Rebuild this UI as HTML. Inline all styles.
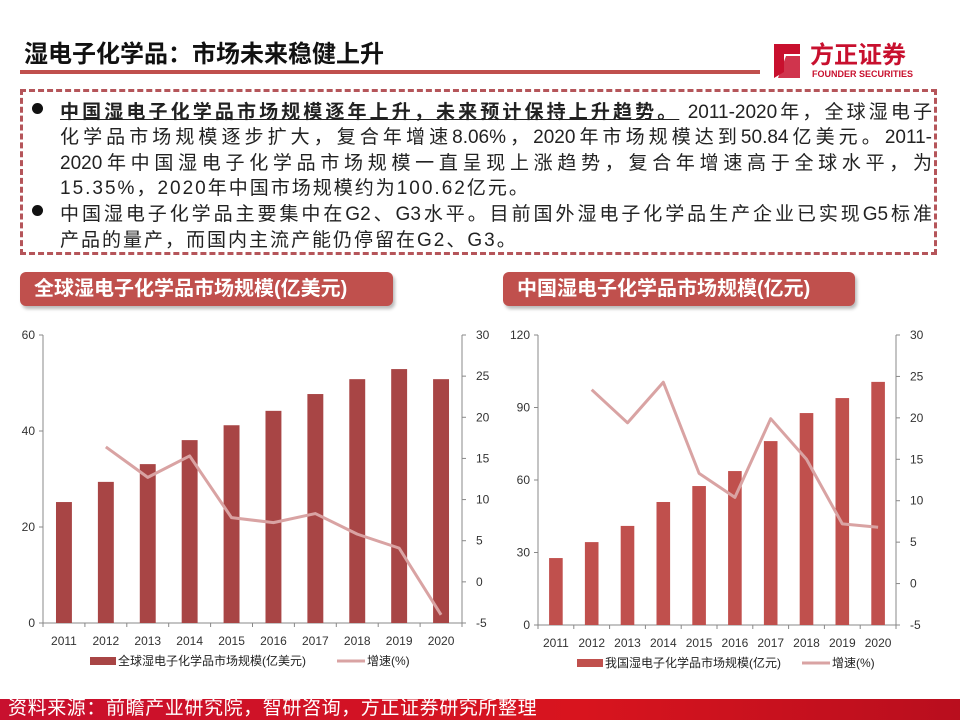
<!DOCTYPE html>
<html><head><meta charset="utf-8">
<style>
body{margin:0;width:960px;height:720px;background:#fff;position:relative;overflow:hidden;font-family:"Liberation Sans","Noto Sans CJK SC",sans-serif;}
.abs{position:absolute;}
#title{left:24px;top:34px;font-size:24px;font-weight:bold;color:#111;}
#rule{left:20px;top:70px;width:740px;height:4px;background:#c0504d;}
#box{left:20px;top:89px;width:917px;height:166px;border:3px dashed #b5555a;box-sizing:border-box;}
.line{position:absolute;left:60px;font-size:19px;color:#222;white-space:nowrap;letter-spacing:2px;}
.full{width:872px;text-align:justify;text-align-last:justify;letter-spacing:0;}
.dot{position:absolute;left:32px;width:11px;height:11px;border-radius:50%;background:#111;}
.pill{position:absolute;top:272px;height:34px;background:#c0504d;border-radius:6px;color:#fff;font-weight:bold;font-size:20px;line-height:34px;padding-left:14px;box-sizing:border-box;box-shadow:2px 3px 3px #bbb;}
#footer{left:0;top:699px;width:960px;height:21px;background:linear-gradient(90deg,#c8102e,#d8141e 60%,#b80e1e);color:#fff;font-size:19px;line-height:20px;padding-left:8px;letter-spacing:0.6px;}
svg text{font-family:"Liberation Sans","Noto Sans CJK SC",sans-serif;}
</style></head><body>
<div id="title" class="abs">湿电子化学品：市场未来稳健上升</div>
<div id="rule" class="abs"></div>
<div class="abs" style="left:770px;top:36px;width:170px;height:46px;">
 <svg width="170" height="46"><path d="M4 8 L30 8 L30 18 L14 18 L14 36 L4 42 Z" fill="#c8102e"/><path d="M16 20 L30 20 L30 42 L8 42 Z" fill="#c8102e" opacity="0.85"/>
 <text x="40" y="27" font-size="24" font-weight="bold" fill="#c8102e">方正证券</text>
 <text x="42" y="41" font-size="9" font-weight="bold" fill="#c8102e">FOUNDER SECURITIES</text></svg>
</div>
<div id="box" class="abs"></div>
<div class="dot" style="top:103px"></div>
<div class="line full" style="top:97px"><b style="text-decoration:underline">中国湿电子化学品市场规模逐年上升，未来预计保持上升趋势。</b> 2011-2020年，全球湿电子</div>
<div class="line full" style="top:122px">化学品市场规模逐步扩大，复合年增速8.06%，2020年市场规模达到50.84亿美元。2011-</div>
<div class="line full" style="top:148px">2020年中国湿电子化学品市场规模一直呈现上涨趋势，复合年增速高于全球水平，为</div>
<div class="line" style="top:173px">15.35%，2020年中国市场规模约为100.62亿元。</div>
<div class="dot" style="top:205px"></div>
<div class="line full" style="top:199px">中国湿电子化学品主要集中在G2、G3水平。目前国外湿电子化学品生产企业已实现G5标准</div>
<div class="line" style="top:225px">产品的量产，而国内主流产能仍停留在G2、G3。</div>
<div class="pill" style="left:20px;width:373px">全球湿电子化学品市场规模(亿美元)</div>
<div class="pill" style="left:503px;width:352px">中国湿电子化学品市场规模(亿元)</div>
<svg id="chart" class="abs" style="left:0;top:0" width="960" height="720"></svg>
<div id="footer" class="abs">资料来源：前瞻产业研究院，智研咨询，方正证券研究所整理</div>
<script>
const years=["2011","2012","2013","2014","2015","2016","2017","2018","2019","2020"];
const globalSize=[25.2,29.4,33.1,38.1,41.2,44.2,47.7,50.8,52.9,50.8];
const globalGrowth=[null,16.4,12.7,15.3,7.8,7.2,8.3,5.8,4.1,-4.0];
const chinaSize=[27.7,34.3,41.0,50.9,57.5,63.7,76.1,87.7,93.9,100.6];
const chinaGrowth=[null,23.4,19.4,24.3,13.3,10.4,19.9,15.0,7.2,6.8];
const globalLeftTicks=[0,20,40,60];
const chinaLeftTicks=[0,30,60,90,120];
const rightTicks=[-5,0,5,10,15,20,25,30];
const NS="http://www.w3.org/2000/svg";
const svg=document.getElementById('chart');
function mk(tag,attrs,parent){const e=document.createElementNS(NS,tag);for(const k in attrs)e.setAttribute(k,attrs[k]);(parent||svg).appendChild(e);return e;}
function draw(cfg){
 const g=mk('g',{});
 
 
 const {x0,x1,yTop,yBot,lmax,ticks,sizes,growth,barColor,legend}=cfg;
 const n=years.length, step=(x1-x0)/n;
 const yL=v=>yBot-(v/lmax)*(yBot-yTop);
 const yR=v=>yBot-((v+5)/35)*(yBot-yTop);
 const ax=mk('path',{d:`M${x0} ${yTop}V${yBot}H${x1}V${yTop}`,stroke:'#888',fill:'none','stroke-width':1},g);
 
 
 ticks.forEach(t=>{const y=yL(t);mk('line',{x1:x0-4,x2:x0,y1:y,y2:y,stroke:'#888'},g);
  const tx=mk('text',{x:x0-8,y:y+4,'text-anchor':'end','font-size':12,fill:'#333'},g);tx.textContent=t;
  
  });
 rightTicks.forEach(t=>{const y=yR(t);mk('line',{x1:x1,x2:x1+4,y1:y,y2:y,stroke:'#888'},g);
  const tx=mk('text',{x:x1+14,y:y+4,'font-size':12,fill:'#333'},g);tx.textContent=t;
  
  });
 for(let i=0;i<=n;i++)mk('line',{x1:x0+i*step,x2:x0+i*step,y1:yBot,y2:yBot+4,stroke:'#888'},g);
 const bw=step*0.38;
 years.forEach((yr,i)=>{const cx=x0+step*(i+0.5);
  const r=mk('rect',{x:cx-bw/2,y:yL(sizes[i]),width:bw,height:yBot-yL(sizes[i]),fill:barColor},g);
  
  
  const tx=mk('text',{x:cx,y:yBot+22,'text-anchor':'middle','font-size':12,fill:'#333'},g);tx.textContent=yr;
  
  });
 let d='';growth.forEach((v,i)=>{if(v===null)return;const cx=x0+step*(i+0.5);d+=(d?'L':'M')+cx+' '+yR(v);});
 const ln=mk('path',{d:d,stroke:'#d9a3a3',fill:'none','stroke-width':3,'stroke-linejoin':'round'},g);
 
 
 const ly=yBot+39;
 mk('rect',{x:cfg.legX,y:ly-5,width:26,height:8,fill:barColor},g);
 const t1=mk('text',{x:cfg.legX+28,y:ly+3,'font-size':12,fill:'#222'},g);t1.textContent=legend;
 
 
 mk('line',{x1:cfg.leg2X,x2:cfg.leg2X+28,y1:ly-1,y2:ly-1,stroke:'#d9a3a3','stroke-width':3},g);
 const t2=mk('text',{x:cfg.leg2X+30,y:ly+3,'font-size':12,fill:'#222'},g);t2.textContent='增速(%)';
 
 
}
draw({name:'global-market-chart',x0:43,x1:462,yTop:335,yBot:623,lmax:60,ticks:globalLeftTicks,sizes:globalSize,growth:globalGrowth,barColor:'#a84545',legend:'全球湿电子化学品市场规模(亿美元)',legX:90,leg2X:337});
draw({name:'china-market-chart',x0:538,x1:896,yTop:335,yBot:625,lmax:120,ticks:chinaLeftTicks,sizes:chinaSize,growth:chinaGrowth,barColor:'#c0504d',legend:'我国湿电子化学品市场规模(亿元)',legX:577,leg2X:802});
</script>
</body></html>
